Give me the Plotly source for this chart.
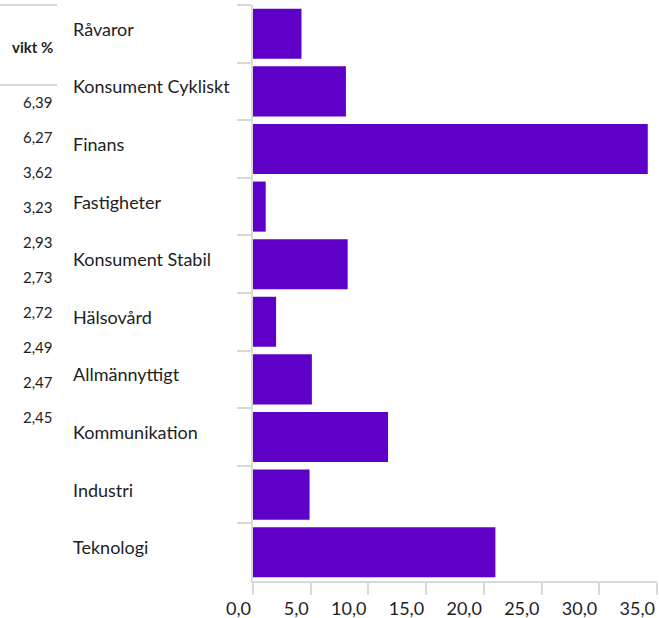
import plotly.graph_objects as go

categories = ["Råvaror", "Konsument Cykliskt", "Finans", "Fastigheter", "Konsument Stabil",
              "Hälsovård", "Allmännyttigt", "Kommunikation", "Industri", "Teknologi"]
values = [4.2, 8.05, 34.2, 1.1, 8.2, 2.0, 5.1, 11.7, 4.9, 21.0]
weights_header = "vikt %"
weights = [6.39, 6.27, 3.62, 3.23, 2.93, 2.73, 2.72, 2.49, 2.47, 2.45]
x_ticks = [0, 5, 10, 15, 20, 25, 30, 35]

FONT = "Lato"
TXT = "#1e1e1e"
GRID = "#d9d9d9"
BAR = "#5e00c8"

W, H = 659, 618
ML, MR, MT, MB = 253, 2, 5, 37
PW = W - ML - MR
PH = H - MT - MB


def px_x(px):
    return (px - ML) / PW


def px_y(py):
    return (H - MB - py) / PH


fig = go.Figure(go.Bar(
    y=categories, x=values, orientation="h",
    marker=dict(color=BAR, line=dict(width=0)),
    hoverinfo="skip",
))

annotations = []
for c in categories:
    annotations.append(dict(
        x=px_x(71), xref="paper", y=c, yref="y", text=c, showarrow=False,
        xanchor="left", yanchor="middle", yshift=5,
        font=dict(family=FONT, size=18, color=TXT),
    ))

annotations.append(dict(
    x=px_x(55), xref="paper", y=px_y(47), yref="paper", text="<b>" + weights_header + "</b>",
    showarrow=False, xanchor="right", yanchor="middle",
    font=dict(family=FONT, size=15, color=TXT),
))
start_y, step_y = 102, 35
for i, w in enumerate(weights):
    annotations.append(dict(
        x=px_x(55), xref="paper", y=px_y(start_y + i * step_y), yref="paper",
        text=f"{w:.2f}".replace(".", ","), showarrow=False,
        xanchor="right", yanchor="middle",
        font=dict(family=FONT, size=15, color=TXT),
    ))

shapes = []
for ly in (5, 85):
    shapes.append(dict(type="line", xref="paper", yref="paper",
                       x0=px_x(0), x1=px_x(57), y0=px_y(ly), y1=px_y(ly),
                       line=dict(color=GRID, width=2)))

fig.update_layout(
    width=W, height=H,
    margin=dict(l=ML, r=MR, t=MT, b=MB, pad=0),
    paper_bgcolor="white", plot_bgcolor="white",
    separators=", ",
    bargap=0.13,
    showlegend=False,
    font=dict(family=FONT, size=18, color=TXT),
    annotations=annotations,
    shapes=shapes,
    xaxis=dict(
        range=[0, 35], tickvals=x_ticks, tickformat=".1f",
        showgrid=False, zeroline=False,
        showline=True, linecolor=GRID, linewidth=2,
        ticks="outside", ticklen=12, tickwidth=2, tickcolor=GRID,
        ticklabelposition="outside left", ticklabelstandoff=10,
        tickfont=dict(family=FONT, size=18, color=TXT),
        automargin=False,
        fixedrange=True,
    ),
    yaxis=dict(
        categoryorder="array", categoryarray=categories, autorange="reversed",
        showgrid=False, zeroline=False,
        showline=True, linecolor=GRID, linewidth=2,
        ticks="outside", tickson="boundaries", ticklen=14, tickwidth=2, tickcolor=GRID,
        showticklabels=False,
        automargin=False,
        fixedrange=True,
    ),
)

fig.write_html("out.html", config={"displayModeBar": False},
               post_script="document.body.style.margin='0';document.body.style.overflow='hidden';")
